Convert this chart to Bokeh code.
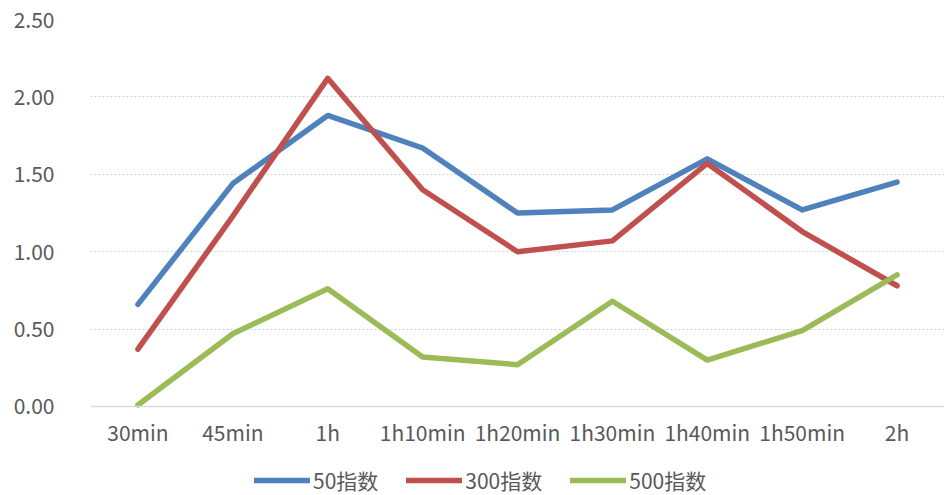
from bokeh.plotting import figure
from bokeh.models import FixedTicker, Legend, LegendItem, Range1d, FactorRange
from bokeh.embed import file_html
from bokeh.resources import INLINE

categories = ["30min", "45min", "1h", "1h10min", "1h20min", "1h30min", "1h40min", "1h50min", "2h"]
idx50 = [0.66, 1.44, 1.88, 1.67, 1.25, 1.27, 1.60, 1.27, 1.45]
idx300 = [0.37, 1.23, 2.12, 1.40, 1.00, 1.07, 1.57, 1.13, 0.78]
idx500 = [0.01, 0.47, 0.76, 0.32, 0.27, 0.68, 0.30, 0.49, 0.85]
series_names = ["50指数", "300指数", "500指数"]
y_ticks = [0.0, 0.5, 1.0, 1.5, 2.0, 2.5]
y_tick_labels = ["0.00", "0.50", "1.00", "1.50", "2.00", "2.50"]

FONT = "Noto Sans CJK SC"
TXT = "#595959"

# frame spans to the bottom of the page so the legend can sit under the x axis
p = figure(x_range=FactorRange(*categories, range_padding=0), y_range=Range1d(-0.575, 2.5),
           frame_width=854, frame_height=476,
           min_border_left=90, min_border_top=19, min_border_right=0, min_border_bottom=0,
           output_backend="svg", toolbar_location=None, background_fill_color="white",
           border_fill_color="white", outline_line_color=None)

colors = ["#4F81BD", "#C0504D", "#9BBB59"]
renderers = []
for ys, c in zip([idx50, idx300, idx500], colors):
    r = p.line(categories, ys, line_color=c, line_width=5.5, line_cap="round", line_join="round")
    renderers.append(r)

p.yaxis.ticker = FixedTicker(ticks=y_ticks)
p.yaxis.major_label_overrides = {t: l for t, l in zip(y_ticks, y_tick_labels)}
p.yaxis.axis_line_color = None
p.yaxis.major_tick_line_color = None
p.yaxis.minor_tick_line_color = None
p.yaxis.major_label_standoff = 30
p.yaxis.major_label_text_font = FONT
p.yaxis.major_label_text_font_size = "21px"
p.yaxis.major_label_text_color = TXT

p.xaxis.fixed_location = 0
p.xaxis.axis_line_color = "#D9D9D9"
p.xaxis.axis_line_width = 1.5
p.xaxis.major_tick_line_color = None
p.xaxis.minor_tick_line_color = None
p.xaxis.major_tick_out = 0
p.xaxis.major_tick_in = 0
p.xaxis.major_label_standoff = 11
p.xaxis.major_label_text_font = FONT
p.xaxis.major_label_text_font_size = "21px"
p.xaxis.major_label_text_color = TXT

p.xgrid.grid_line_color = None
p.ygrid.ticker = FixedTicker(ticks=y_ticks[1:])
p.ygrid.grid_line_color = "#D0D0D0"
p.ygrid.grid_line_dash = "2 2"
p.ygrid.grid_line_width = 1

items = [LegendItem(label=n, renderers=[r]) for n, r in zip(series_names, renderers)]
legend = Legend(items=items, orientation="horizontal", location=(164, 0),
                glyph_width=56, glyph_height=20, label_standoff=3, spacing=28,
                padding=0, margin=0, border_line_color=None, background_fill_alpha=0,
                label_text_font=FONT, label_text_font_size="21px", label_text_color=TXT)
p.add_layout(legend, "center")

open("out.html", "w").write(file_html(p, INLINE))
